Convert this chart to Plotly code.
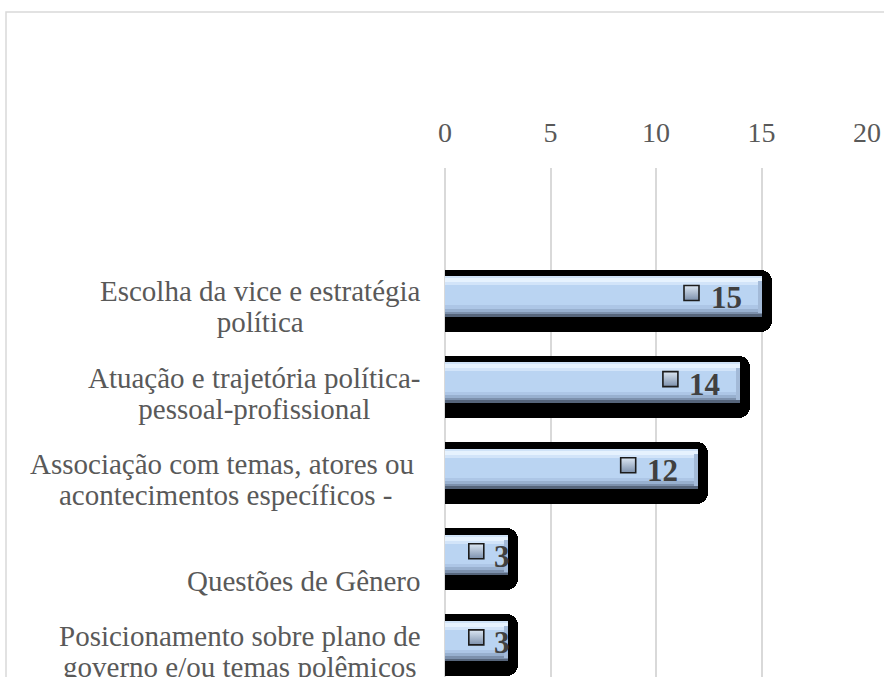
import plotly.graph_objects as go

# Categories (top to bottom) and their counts
categories = [
    "Escolha da vice e estratégia\npolítica",
    "Atuação e trajetória política-\npessoal-profissional",
    "Associação com temas, atores ou\u00a0\nacontecimentos específicos -",
    "Questões de Gênero",
    "Posicionamento sobre plano de\ngoverno e/ou temas polêmicos",
]
values = [15, 14, 12, 3, 3]
tick_values = [0, 5, 10, 15, 20]

# Figure geometry
W, H = 884, 677
ML, MR, MT, MB = 445, 17, 168, 0
plot_w = W - ML - MR
plot_h = H - MT - MB
x_max = 20
y_top, y_bottom = -1.492, 4.419
px_x = plot_w / x_max                 # pixels per value unit
px_y = plot_h / (y_bottom - y_top)    # pixels per category unit

serif = "Liberation Serif"
pos = list(range(len(categories)))


def dy(p):
    """pixel offset -> category units (positive = downward)"""
    return p / px_y


fig = go.Figure()

# black rounded backdrop behind each bar
fig.add_trace(go.Bar(
    y=pos, x=[v + 10 / px_x for v in values], orientation="h",
    width=dy(62), offset=-dy(26.5),
    marker=dict(color="#000000", line=dict(width=0), cornerradius=11),
    hoverinfo="skip", showlegend=False,
))

# bevelled light-blue bar body, built from horizontal bands
bands = [
    (-20.2, 40.4, "#bad4f2"),
    (-20.2, 2.0, "#cfe2f7"),
    (-18.2, 4.0, "#e6f2fe"),
    (-14.2, 3.0, "#d2e4f9"),
    (9.0, 3.5, "#adc6e6"),
    (12.5, 3.0, "#98b0cf"),
    (15.5, 2.2, "#7c90ac"),
    (17.7, 2.5, "#56657b"),
]
for top, thick, col in bands:
    fig.add_trace(go.Bar(
        y=pos, x=values, orientation="h",
        width=dy(thick), offset=dy(top),
        marker=dict(color=col, line=dict(width=0)),
        hoverinfo="skip", showlegend=False,
    ))

# right-end bevel
fig.add_trace(go.Bar(
    y=pos, x=[4 / px_x] * len(values), base=[v - 4 / px_x for v in values],
    orientation="h", width=dy(32), offset=dy(-15),
    marker=dict(color="#a3bad8", line=dict(width=0)),
    hoverinfo="skip", showlegend=False,
))

# data labels: legend key square + bold value
digit_w = 16
label_shift = [(-18 if v >= 5 else 4) for v in values]
key_x = [
    v + (s - digit_w * len(str(v)) - 20) / px_x
    for v, s in zip(values, label_shift)
]
fig.add_trace(go.Scatter(
    x=key_x, y=[p - dy(3.5) for p in pos], mode="markers",
    marker=dict(symbol="square", size=15, color="#dce7f3",
                gradient=dict(type="vertical", color="#7c90ac"),
                line=dict(color="#1c1c1c", width=1.6)),
    hoverinfo="skip", showlegend=False,
))

annotations = []
for p, v, s in zip(pos, values, label_shift):
    annotations.append(dict(
        x=v, y=p, xref="x", yref="y", xanchor="right", yanchor="middle",
        xshift=s, yshift=-1.5, showarrow=False,
        text=f"<b>{v}</b>",
        font=dict(family=serif, size=31, color="#404040"),
    ))

# category labels, right-aligned block with centred lines
for p, cat in zip(pos, categories):
    lines = cat.split("\n")
    html = "<br>".join(f'<span style="font-size:29px">{ln}</span>' for ln in lines)
    annotations.append(dict(
        x=0, y=p, xref="x", yref="y", xanchor="right", yanchor="bottom",
        xshift=-22, yshift=-44, showarrow=False, align="center",
        text=html,
        font=dict(family=serif, size=24, color="#595959"),
    ))

# outer chart frame (left and top edges)
fx0 = (6 - ML) / plot_w
fy0 = (H - 12 - MB) / plot_h
shapes = [dict(
    type="path", xref="paper", yref="paper",
    path=f"M {fx0},-0.1 L {fx0},{fy0} L 1.2,{fy0}",
    line=dict(color="#d9d9d9", width=1.5),
)]

fig.update_layout(
    width=W, height=H,
    margin=dict(l=ML, r=MR, t=MT, b=MB, pad=0),
    paper_bgcolor="white", plot_bgcolor="white",
    barmode="overlay", bargap=0,
    showlegend=False,
    annotations=annotations,
    shapes=shapes,
    font=dict(family=serif, color="#595959"),
    xaxis=dict(
        side="top", range=[0, x_max], tickvals=tick_values,
        ticktext=[str(t) for t in tick_values],
        showgrid=True, gridcolor="#d9d9d9", gridwidth=1.5,
        zeroline=True, zerolinecolor="#d9d9d9", zerolinewidth=1.5,
        showline=False, ticks="outside", ticklen=14,
        tickcolor="rgba(0,0,0,0)",
        tickfont=dict(family=serif, size=28, color="#595959"),
        fixedrange=True,
    ),
    yaxis=dict(
        range=[y_bottom, y_top], showticklabels=False, showgrid=False,
        zeroline=False, showline=False, ticks="", fixedrange=True,
    ),
)

fig.write_html("out.html")
